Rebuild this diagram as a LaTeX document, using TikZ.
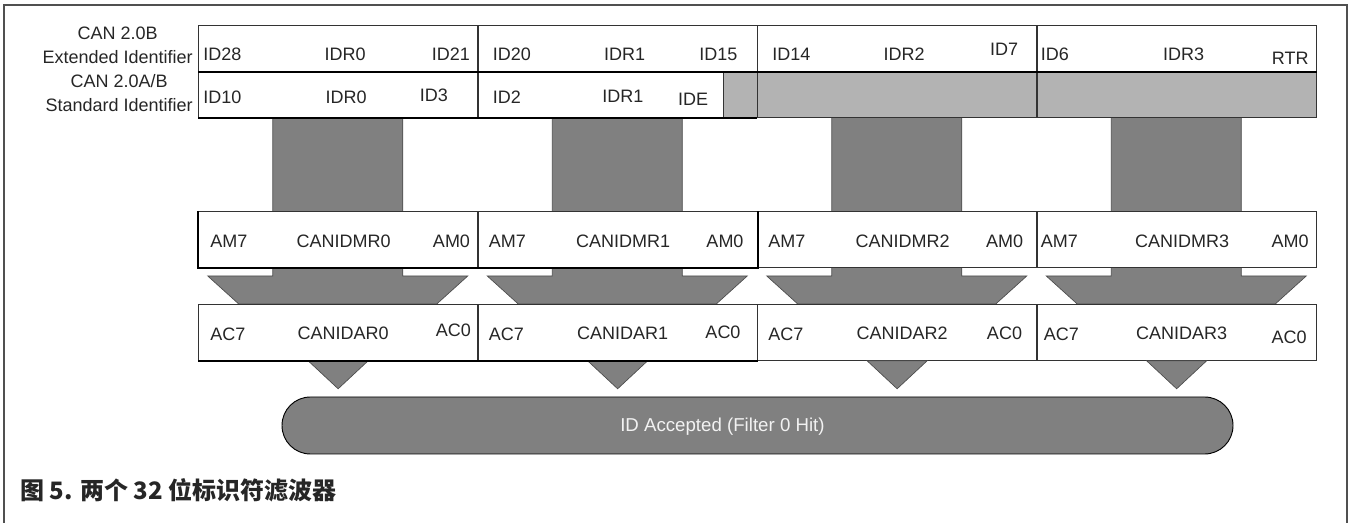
\documentclass[tikz,border=0pt]{standalone}
\usepackage{fontspec}
\setmainfont{Liberation Sans}
\newfontfamily\cjk{Noto Sans CJK SC}
\definecolor{flowgray}{HTML}{808080}
\definecolor{padgray}{HTML}{B3B3B3}
\definecolor{framegray}{HTML}{505050}
\tikzset{
  cell/.style={draw=black!80, line width=0.6pt, fill=white, anchor=north west,
    inner sep=0pt, minimum width=209.6pt},
  lbl/.style={font=\fontsize{13.5}{16}\selectfont, inner sep=0pt, text=black!85},
  flow/.style={fill=flowgray, draw=black!70, line width=0.5pt},
  heavy/.style={line width=1.2pt, black}
}
\begin{document}
\begin{tikzpicture}[x=0.75pt,y=-0.75pt]
\useasboundingbox (0,0) rectangle (1352,523);
\draw[framegray, line width=1.5pt] (4,523) -- (4,5) -- (1347,5) -- (1347,523);

% names of the two identifier formats
\node[lbl, align=center, anchor=east, font=\fontsize{13.5}{18}\selectfont] (extname) at (193,45) {CAN 2.0B\\Extended Identifier};
\node[lbl, align=center, anchor=east, font=\fontsize{13.5}{18}\selectfont] (stdname) at (193,93.5) {CAN 2.0A/B\\Standard Identifier};

% wide arrows IDRn -> CANIDMRn -> CANIDARn
\foreach \i in {0,...,3}{
  \coordinate (top\i) at ({337.75+279.5*\i},117);
  \filldraw[flow] (top\i) ++(-65,0) -- ++(0,159) -- ++(-65,0) -- ++(31,28)
    -- ++(198,0) -- ++(31,-28) -- ++(-65,0) -- ++(0,-159) -- cycle;
}

% extended identifier
\foreach \i/\l/\li/\m/\r/\ri/\ry in {0/ID28/5/IDR0/ID21/8/6, 1/ID20/15/IDR1/ID15/20/6,
    2/ID14/15/IDR2/ID7/19/1, 3/ID6/4/IDR3/RTR/8/10}{
  \node[cell, minimum height=34.5pt] (ext\i) at ({198+279.5*\i},25) {};
  \node[lbl, anchor=west] (ext\i-l) at ([shift={(\li,6)}]ext\i.west) {\l};
  \node[lbl] (ext\i-m) at ([shift={(7,6)}]ext\i.center) {\m};
  \node[lbl, anchor=east] (ext\i-r) at ([shift={(-\ri,\ry)}]ext\i.east) {\r};
}

% standard identifier
\node[cell, minimum height=34.5pt] (std0) at (198,71) {};
\node[cell, minimum height=34.5pt, minimum width=183.75pt] (std1) at (477.5,71) {};
\node[cell, minimum height=34.5pt, minimum width=25.5pt, fill=padgray] (pad1) at (722.5,71) {};
\node[cell, minimum height=34.5pt, fill=padgray] (pad2) at (757,71) {};
\node[cell, minimum height=34.5pt, fill=padgray] (pad3) at (1036.5,71) {};
\node[lbl, anchor=west] (std0-l) at ([shift={(5,3)}]std0.west) {ID10};
\node[lbl] (std0-m) at ([shift={(8,3)}]std0.center) {IDR0};
\node[lbl, anchor=east] (std0-r) at ([shift={(-30,1)}]std0.east) {ID3};
\node[lbl, anchor=west] (std1-l) at ([shift={(15,3)}]std1.west) {ID2};
\node[lbl] (std1-m) at ([shift={(22.5,2)}]std1.center) {IDR1};
\node[lbl, anchor=east] (std1-r) at ([shift={(-15,5)}]std1.east) {IDE};
\draw[heavy] (ext0.south west) -- (ext3.south east);
\draw[heavy] (std0.south west) -- (pad1.south east);

% identifier mask registers
\foreach \i/\l/\li/\m/\r/\ri in {0/AM7/12/CANIDMR0/AM0/8, 1/AM7/11/CANIDMR1/AM0/14,
    2/AM7/11/CANIDMR2/AM0/14, 3/AM7/4/CANIDMR3/AM0/8}{
  \node[cell, minimum height=42pt] (mask\i) at ({198+279.5*\i},211) {};
  \node[lbl, anchor=west] (mask\i-l) at ([shift={(\li,2)}]mask\i.west) {\l};
  \node[lbl] (mask\i-m) at ([shift={(5.5,2)}]mask\i.center) {\m};
  \node[lbl, anchor=east] (mask\i-r) at ([shift={(-\ri,2)}]mask\i.east) {\r};
}
\draw[heavy] (mask0.north west) -- (mask0.south west) -- (mask1.south east) -- (mask1.north east);

% identifier acceptance registers
\foreach \i/\l/\li/\m/\r/\ri/\ry in {0/AC7/12/CANIDAR0/AC0/7/-2, 1/AC7/11/CANIDAR1/AC0/17/0,
    2/AC7/11/CANIDAR2/AC0/15/1, 3/AC7/7/CANIDAR3/AC0/10/5}{
  \node[cell, minimum height=42pt] (acc\i) at ({198+279.5*\i},304) {};
  \node[lbl, anchor=west] (acc\i-l) at ([shift={(\li,2)}]acc\i.west) {\l};
  \node[lbl] (acc\i-m) at ([shift={(5,1)}]acc\i.center) {\m};
  \node[lbl, anchor=east] (acc\i-r) at ([shift={(-\ri,\ry)}]acc\i.east) {\r};
  \filldraw[flow] (acc\i.south) ++(-30,0) -- ++(30,28) -- ++(30,-28) -- cycle;
}
\draw[heavy] (acc0.south west) -- (acc1.south east);

% filter hit
\node[draw=black, line width=0.7pt, fill=flowgray, rounded corners=21.3pt, inner sep=0pt,
  minimum width=713.25pt, minimum height=42.75pt] (hit) at (757.5,425.5) {};
\node[lbl, anchor=west, text=white!95!black, font=\fontsize{14}{16}\selectfont] (hit-text) at ([shift={(-137.5,1)}]hit.center) {ID Accepted (Filter 0 Hit)};

\node[anchor=west, inner sep=0pt, text=black!85, font=\fontsize{18}{20}\selectfont\cjk\bfseries] (caption) at (20,490) {图 5. 两个 32 位标识符滤波器};
\end{tikzpicture}
\end{document}
